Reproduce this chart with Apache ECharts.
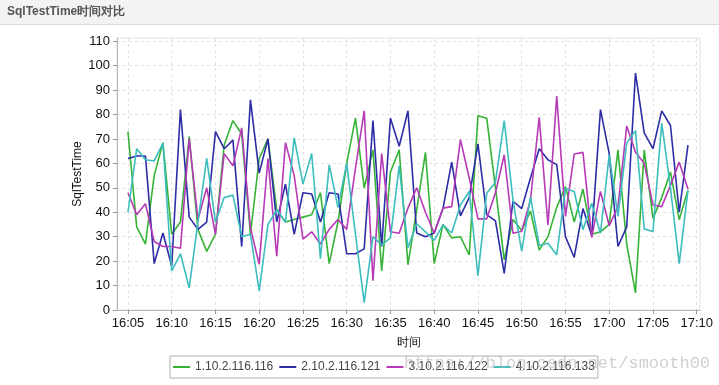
<!DOCTYPE html>
<html><head><meta charset="utf-8">
<script src="https://cdn.jsdelivr.net/npm/echarts@6/dist/echarts.min.js"></script>
<style>html,body{margin:0;padding:0;background:#fff}#c{width:719px;height:385px}</style>
</head><body><div id="c"></div>
<script>
const times = ['16:05','16:06','16:07','16:08','16:09','16:10','16:11','16:12','16:13','16:14',
'16:15','16:16','16:17','16:18','16:19','16:20','16:21','16:22','16:23','16:24',
'16:25','16:26','16:27','16:28','16:29','16:30','16:31','16:32','16:33','16:34',
'16:35','16:36','16:37','16:38','16:39','16:40','16:41','16:42','16:43','16:44',
'16:45','16:46','16:47','16:48','16:49','16:50','16:51','16:52','16:53','16:54',
'16:55','16:56','16:57','16:58','16:59','17:00','17:01','17:02','17:03','17:04',
'17:05','17:06','17:07','17:08','17:09'];
const seriesNames = ['1.10.2.116.116','2.10.2.116.121','3.10.2.116.122','4.10.2.116.133'];
const host116 = [73,34,27,55,68.5,31,36,71,33,24, 31,67.5,77.5,72,31,62,70,41,36,37, 38,39,48,19,36,60,78.5,50,65.5,16, 56.5,65.5,18.5,41,64.5,19,35,29.5,30,22.5, 79.5,78.5,50,20.5,37,32.5,40.5,24.5,30,42, 50.5,36,49.5,31,32,35,65.5,27,7,65.5, 37.5,46,56.5,37,49];
const host121 = [62,63,63,19,31.5,18,82,38,33,36, 73,66,69.5,26,86,56,70,36,51.5,31, 48,47.5,36,48,47.5,23,23,25,77.5,26, 78.5,67,81.5,31.5,30,31.5,41.5,60.5,38.5,46, 68,39,36.5,15,44.5,41.5,54,66,61.5,59.5, 30,21.5,41.5,30.5,82,64,26,34,97,72.5, 66,81.5,75.5,40,67.5];
const host122 = [48,39,43.5,28,26,26,25.3,70,37,50, 31,64,59,74.5,33.5,18.7,62,22,68.5,55, 29,32,27,33,37,33,58,81.5,12,64, 32,31.4,41.7,50,40,31.4,41.7,42.3,69.7,54, 37.3,37.3,48,63.5,31.4,32.2,45,78.8,34.8,87.5, 38.3,63.8,64.5,29.6,48.5,34.5,42.3,75.3,64.5,60, 43,42.3,51,60.5,49.5];
const host133 = [40,66,61.5,61,68.3,16,23,9,36,62, 36,46,47,30,31,7.8,35,41,36,70.4, 51.5,64,21,59.4,42,60,31,3,30,26.6, 29.5,59,25.5,35.3,32,28.5,34.8,31.5,43,48.5, 14,47.8,52.3,77.5,45,24,46.2,26.4,27.3,22.5, 49.6,48.5,32.8,43.7,31.4,63.5,38.3,68.3,73.4,33.2, 32.1,76.5,50,19,49];
const xTickLabels = ['16:05','16:10','16:15','16:20','16:25','16:30','16:35','16:40','16:45','16:50','16:55','17:00','17:05','17:10'];
const yTicks = [0,10,20,30,40,50,60,70,80,90,100,110];
const colors = ['#36b336','#2c2ca6','#b63ab6','#3dbdbd'];

function toMin(t){const p=t.split(':');return (+p[0]-16)*60+(+p[1]);}
function fmt(m){const h=16+Math.floor(m/60);const mm=Math.round(m%60);return h+':'+(mm<10?'0':'')+mm;}
const xs = times.map(toMin);
const xTickVals = xTickLabels.map(toMin);
const all = [host116,host121,host122,host133];

const chart = echarts.init(document.getElementById('c'));
const font = 'Liberation Sans, Arial, sans-serif';
chart.setOption({
  animation:false,
  backgroundColor:'#fff',
  color:colors,
  textStyle:{fontFamily:font},
  graphic:[
    {type:'rect',left:0,top:0,shape:{width:719,height:24},style:{fill:'#f3f3f3'},z:-1},
    {type:'line',shape:{x1:0,y1:24.5,x2:719,y2:24.5},style:{stroke:'#dcdcdc',lineWidth:1}},
    {type:'text',left:7,top:6,style:{text:'SqlTestTime时间对比',fill:'#555',font:'bold 12px '+font}},
    {type:'text',left:404,top:355,z:100,style:{text:'https://blog.csdn.net/smooth00',fill:'rgba(175,175,175,0.6)',font:'17px "Liberation Mono", monospace'}}
  ],
  grid:{left:117,right:19,top:38,bottom:75,show:true,borderColor:'#e2e2e2',borderWidth:1,backgroundColor:'transparent'},
  legend:{left:170,top:356,orient:'horizontal',icon:'rect',itemWidth:17,itemHeight:2,itemGap:6,
    padding:[5,3],borderColor:'#b0b0b0',borderWidth:1,
    textStyle:{fontSize:12,color:'#444',fontFamily:font},data:seriesNames},
  xAxis:{type:'value',min:3.75,max:70.375,name:'时间',nameLocation:'middle',nameGap:27,nameMoveOverlap:false,
    nameTextStyle:{fontSize:12,color:'#111'},
    axisLine:{lineStyle:{color:'#b5b5b5'}},
    axisTick:{show:true,length:4,lineStyle:{color:'#999'},customValues:xTickVals},
    axisLabel:{customValues:xTickVals,formatter:fmt,fontSize:13,color:'#111',margin:7},
    splitLine:{show:true,lineStyle:{type:[3,3],color:'#e3e3e3'}}},
  yAxis:{type:'value',min:0,max:111.3,name:'SqlTestTime',nameLocation:'middle',nameGap:33,nameMoveOverlap:false,
    nameTextStyle:{fontSize:12,color:'#111'},
    axisLine:{show:true,lineStyle:{color:'#b5b5b5'}},
    axisTick:{show:true,length:4,lineStyle:{color:'#999'},customValues:yTicks},
    axisLabel:{customValues:yTicks,fontSize:13,color:'#111',margin:7},
    splitLine:{show:true,lineStyle:{type:[3,3],color:'#e3e3e3'}}},
  series: all.map((arr,k)=>({name:seriesNames[k],type:'line',showSymbol:false,symbol:'none',
    lineStyle:{width:1.6},data:arr.map((v,i)=>[xs[i],v])}))
});
</script></body></html>
